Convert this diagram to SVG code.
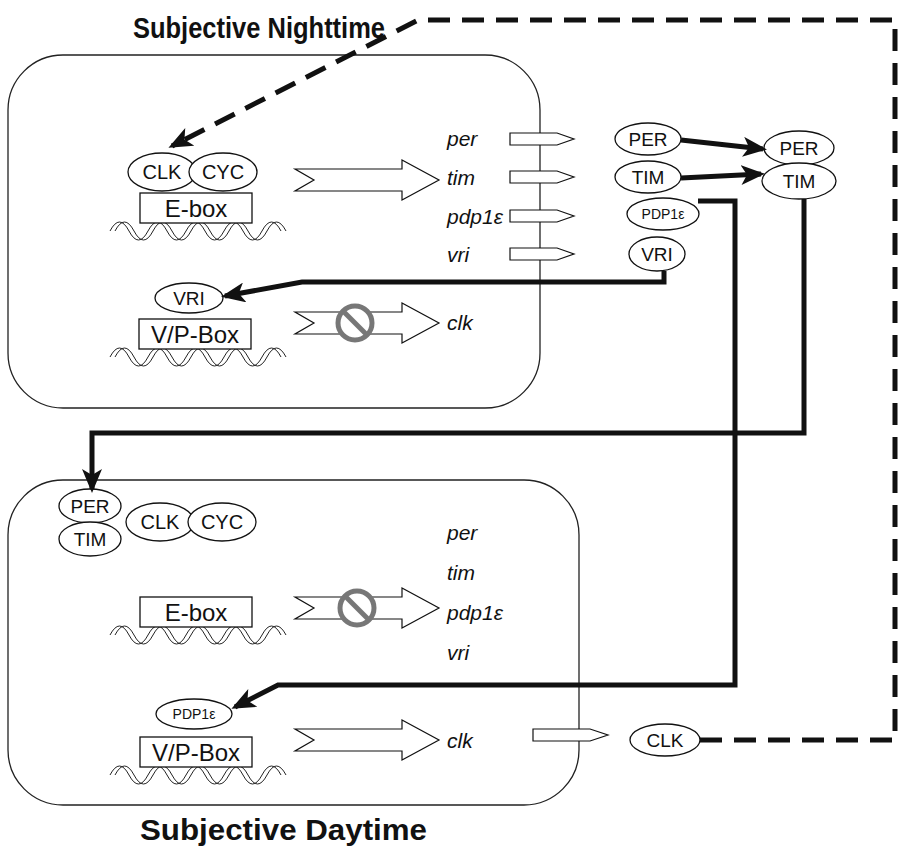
<svg xmlns="http://www.w3.org/2000/svg" width="908" height="855" viewBox="0 0 908 855">
<style>
  .box{fill:none;stroke:#222;stroke-width:1.3}
  .el{fill:#fff;stroke:#111;stroke-width:1.3}
  .lbl{font-family:"Liberation Sans",Arial,sans-serif;fill:#111;text-anchor:middle}
  .gene{font-family:"Liberation Sans",Arial,sans-serif;font-style:italic;font-size:21px;fill:#111}
  .title{font-family:"Liberation Sans",Arial,sans-serif;font-weight:bold;fill:#111}
  .rect{fill:#fff;stroke:#111;stroke-width:1.3}
  .hollow{fill:#fff;stroke:#111;stroke-width:1.2}
  .dna{fill:none;stroke:#222;stroke-width:1}
  .conn{fill:none;stroke:#111;stroke-width:5;stroke-linejoin:miter}
  .dash{fill:none;stroke:#111;stroke-width:5;stroke-dasharray:22 12}
  .nosign{fill:#fff;stroke:#777;stroke-width:5}
</style>
<defs>
  <marker id="ah" markerUnits="userSpaceOnUse" markerWidth="24" markerHeight="20" refX="20" refY="10" orient="auto">
    <path d="M0,0 L24,10 L0,20 L6,10 z" fill="#111"/>
  </marker>
  <g id="dna">
    <path class="dna" d="M0,10 q9.5,-18 19,0 t19,0 t19,0 t19,0 t19,0 t19,0 t19,0 t19,0 t19,0"/>
    <path class="dna" d="M5,10 q9.5,-18 19,0 t19,0 t19,0 t19,0 t19,0 t19,0 t19,0 t19,0 t19,0"/>
  </g>
  <path id="big" class="hollow" d="M295,-11 L402,-11 L402,-20 L439,0 L402,20 L402,11 L295,11 L314,0 z"/>
  <path id="small" class="hollow" d="M0,-6 L47,-6 L64,0 L47,6 L0,6 z"/>
  <path id="small2" class="hollow" d="M0,-6 L57,-6 L75,0 L57,6 L0,6 z"/>
  <g id="no">
    <circle r="17" class="nosign"/>
    <line x1="-12" y1="-12" x2="12" y2="12" stroke="#777" stroke-width="5"/>
  </g>
</defs>

<text class="title" x="133" y="38" font-size="29" textLength="252" lengthAdjust="spacingAndGlyphs">Subjective Nighttime</text>
<text class="title" x="140" y="840" font-size="30" textLength="287" lengthAdjust="spacingAndGlyphs">Subjective Daytime</text>

<g id="night-box">
  <rect class="box" x="8" y="55" width="532" height="353" rx="55"/>
</g>
<g id="day-box">
  <rect class="box" x="8" y="480" width="571" height="325" rx="55"/>
</g>

<!-- Night: E-box complex -->
<g id="n-ebox">
  <use href="#dna" x="110" y="221"/>
  <rect class="rect" x="140" y="193" width="112" height="30"/>
  <text class="lbl" x="196" y="217" font-size="24">E-box</text>
</g>
<g id="n-clk">
  <ellipse class="el" cx="162" cy="172" rx="34" ry="19"/>
  <text class="lbl" x="162" y="179" font-size="20">CLK</text>
</g>
<g id="n-cyc">
  <ellipse class="el" cx="223" cy="172" rx="34" ry="19"/>
  <text class="lbl" x="223" y="179" font-size="20">CYC</text>
</g>
<g id="n-arrow1"><use href="#big" y="180"/></g>

<g id="n-vpbox">
  <use href="#dna" x="110" y="347"/>
  <rect class="rect" x="139" y="319" width="112" height="30"/>
  <text class="lbl" x="195" y="343" font-size="24">V/P-Box</text>
</g>
<g id="n-vri">
  <ellipse class="el" cx="189" cy="298" rx="34" ry="15"/>
  <text class="lbl" x="189" y="305" font-size="19">VRI</text>
</g>
<g id="n-arrow2"><use href="#big" y="323"/><use href="#no" x="355" y="323"/></g>
<text class="gene" x="447" y="330">clk</text>

<!-- Night genes -->
<text class="gene" x="447" y="146">per</text>
<text class="gene" x="447" y="185">tim</text>
<text class="gene" x="447" y="224">pdp1ε</text>
<text class="gene" x="447" y="262">vri</text>
<use href="#small" x="510" y="139"/>
<use href="#small" x="510" y="177"/>
<use href="#small" x="510" y="216"/>
<use href="#small" x="510" y="254"/>

<g id="n-per">
  <ellipse class="el" cx="648" cy="139" rx="33" ry="16"/>
  <text class="lbl" x="648" y="146" font-size="19">PER</text>
</g>
<g id="n-tim">
  <ellipse class="el" cx="648" cy="177" rx="33" ry="16"/>
  <text class="lbl" x="648" y="184" font-size="19">TIM</text>
</g>
<g id="n-pdp">
  <ellipse class="el" cx="663" cy="214" rx="36" ry="16"/>
  <text class="lbl" x="663" y="219" font-size="14">PDP1ε</text>
</g>
<g id="n-vri2">
  <ellipse class="el" cx="657" cy="254" rx="28" ry="17"/>
  <text class="lbl" x="657" y="261" font-size="19">VRI</text>
</g>
<g id="c-per">
  <ellipse class="el" cx="799" cy="148" rx="35" ry="17"/>
  <text class="lbl" x="799" y="155" font-size="19">PER</text>
</g>
<g id="c-tim">
  <ellipse class="el" cx="799" cy="181" rx="37" ry="18"/>
  <text class="lbl" x="799" y="188" font-size="19">TIM</text>
</g>

<!-- Day box -->
<g id="d-per">
  <ellipse class="el" cx="90" cy="506" rx="31" ry="17"/>
  <text class="lbl" x="90" y="513" font-size="19">PER</text>
</g>
<g id="d-tim">
  <ellipse class="el" cx="90" cy="539" rx="31" ry="17"/>
  <text class="lbl" x="90" y="546" font-size="19">TIM</text>
</g>
<g id="d-clk">
  <ellipse class="el" cx="160" cy="522" rx="34" ry="19"/>
  <text class="lbl" x="160" y="529" font-size="20">CLK</text>
</g>
<g id="d-cyc">
  <ellipse class="el" cx="222" cy="522" rx="34" ry="19"/>
  <text class="lbl" x="222" y="529" font-size="20">CYC</text>
</g>
<g id="d-ebox">
  <use href="#dna" x="110" y="625"/>
  <rect class="rect" x="140" y="597" width="112" height="30"/>
  <text class="lbl" x="196" y="621" font-size="24">E-box</text>
</g>
<g id="d-arrow1"><use href="#big" y="608"/><use href="#no" x="357" y="608"/></g>
<text class="gene" x="447" y="540">per</text>
<text class="gene" x="447" y="580">tim</text>
<text class="gene" x="447" y="620">pdp1ε</text>
<text class="gene" x="447" y="660">vri</text>

<g id="d-pdp">
  <ellipse class="el" cx="194" cy="714" rx="38" ry="15"/>
  <text class="lbl" x="194" y="719" font-size="14">PDP1ε</text>
</g>
<g id="d-vpbox">
  <use href="#dna" x="110" y="765"/>
  <rect class="rect" x="140" y="737" width="112" height="30"/>
  <text class="lbl" x="196" y="761" font-size="24">V/P-Box</text>
</g>
<g id="d-arrow2"><use href="#big" y="740"/></g>
<text class="gene" x="447" y="748">clk</text>
<use href="#small2" x="533" y="735"/>
<g id="d-clk2">
  <ellipse class="el" cx="665" cy="740" rx="35" ry="16"/>
  <text class="lbl" x="665" y="747" font-size="19">CLK</text>
</g>

<g id="connectors">
  <path class="conn" d="M681,140 L763,149" marker-end="url(#ah)"/>
  <path class="conn" d="M681,178 L761,174" marker-end="url(#ah)"/>
  <path class="conn" d="M804,199 V433 H92 V489" marker-end="url(#ah)"/>
  <path class="conn" d="M698,201 H735 V685 H278 L235,707" marker-end="url(#ah)"/>
  <path class="conn" d="M664,271 V282 H302 L225,296" marker-end="url(#ah)"/>
  <path class="dash" d="M700,740 H895 V20 H418 L172,146" marker-end="url(#ah)"/>
</g>
</svg>
